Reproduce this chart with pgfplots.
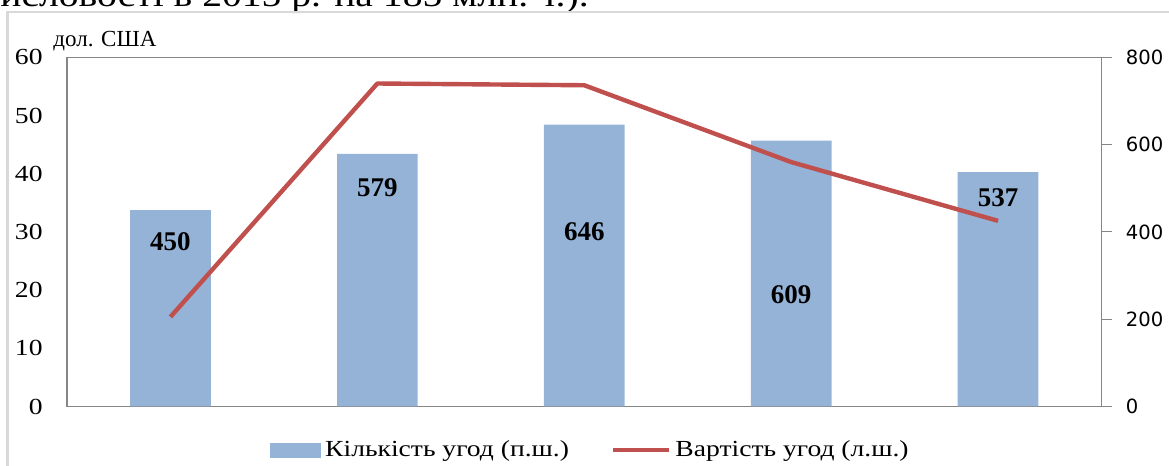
\documentclass[border=0pt]{standalone}
\usepackage{pgfplots}
\pgfplotsset{compat=1.18}
\usepackage{fontspec}
\setmainfont{Liberation Serif}
\newfontfamily\wide[FakeStretch=1.2]{Liberation Serif}
\newfontfamily\sansdj{DejaVu Sans}
\definecolor{barblue}{HTML}{95B3D7}
\definecolor{linered}{HTML}{C0504D}
\definecolor{axgray}{HTML}{868686}
\definecolor{framegray}{HTML}{D9D9D9}
\begin{document}
\begin{tikzpicture}
\useasboundingbox (0,0) rectangle (584.5pt,233pt);
\begin{scope}
\clip (0,0) rectangle (584.5pt,233pt);
\node[anchor=base west, inner sep=0pt, font=\wide\fontsize{16.5}{19}\selectfont] at (0pt,229.5pt) {исловості в 2015 р. на 185 млн. т.).};
\end{scope}
\draw[framegray, line width=1.25pt] (3.75pt,-1pt) -- (3.75pt,227pt) -- (590pt,227pt);

% bars: right axis (п.ш.)
\begin{axis}[
  at={(33.5pt,29.75pt)}, anchor=south west,
  scale only axis, width=517.25pt, height=174.6pt,
  xmin=-0.5, xmax=4.5, ymin=0, ymax=800,
  xtick=\empty,
  ytick={0,200,400,600,800},
  ytick pos=right, yticklabel pos=right,
  tick align=outside, major tick length=5pt,
  axis line style={axgray, line width=0.7pt},
  ytick style={axgray, line width=0.6pt},
  /pgf/number format/assume math mode=true,
  yticklabel style={font=\sansdj\fontsize{9.8}{11}\selectfont, anchor=west, inner sep=0pt, xshift=7pt},
]
\addplot[ybar, bar width=0.39, fill=barblue, draw=none] coordinates {(0,450) (1,579) (2,646) (3,609) (4,537)};
\node[font=\bfseries\fontsize{13.5}{16}\selectfont] at (axis cs:0,377.5) {450};
\node[font=\bfseries\fontsize{13.5}{16}\selectfont] at (axis cs:1,500.6) {579};
\node[font=\bfseries\fontsize{13.5}{16}\selectfont] at (axis cs:2,400.5) {646};
\node[font=\bfseries\fontsize{13.5}{16}\selectfont] at (axis cs:3,255.4) {609};
\node[font=\bfseries\fontsize{13.5}{16}\selectfont] at (axis cs:4,477.7) {537};
\end{axis}

% line: left axis (л.ш.)
\begin{axis}[
  at={(33.5pt,29.75pt)}, anchor=south west,
  scale only axis, width=517.25pt, height=174.6pt,
  xmin=-0.5, xmax=4.5, ymin=0, ymax=60,
  clip=false,
  xtick=\empty,
  ytick={0,10,...,60},
  ytick pos=left,
  major tick length=0pt,
  axis line style={draw=none},
  tick style={draw=none},
  /pgf/number format/assume math mode=true,
  yticklabel style={font=\wide\fontsize{11.5}{14}\selectfont, anchor=east, inner sep=0pt, xshift=-12pt},
  legend style={at={(0.1962,-0.1246)}, anchor=west, draw=none, fill=none, inner sep=0pt,
    font=\wide\fontsize{11.5}{14}\selectfont,
    /tikz/every even column/.append style={column sep=19pt}},
  legend columns=2, legend cell align=left,
]
\addlegendimage{legend image code/.code={\fill[barblue] (0pt,-3.5pt) rectangle (25pt,3.5pt);}}
\addlegendentry{Кількість угод (п.ш.)}
\addplot[linered, line width=2.2pt, line join=round, mark=none,
  legend image code/.code={\draw[linered, line width=2.2pt] (0pt,0pt) -- (28pt,0pt);}]
  coordinates {(0,15.4) (1,55.5) (2,55.2) (3,42.0) (4,31.9)};
\addlegendentry{Вартість угод (л.ш.)}
\node[anchor=base west, inner sep=0pt, font=\fontsize{11.5}{14}\selectfont] at (rel axis cs:-0.0135,1.0) [yshift=5.3pt] {дол. США};
\end{axis}
\end{tikzpicture}
\end{document}
